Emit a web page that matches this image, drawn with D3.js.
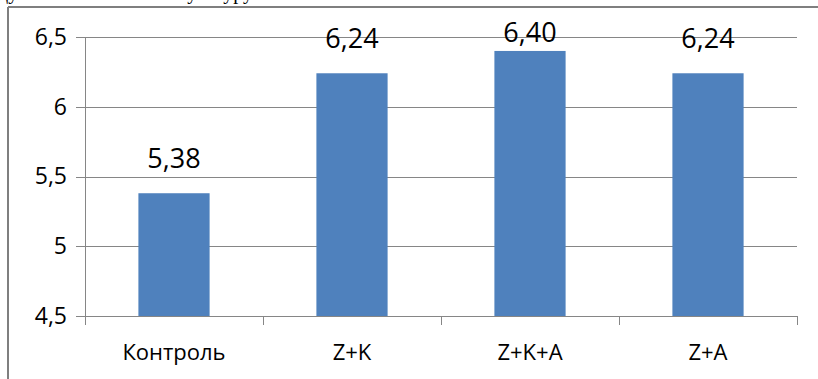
<!DOCTYPE html>
<html>
<head>
<meta charset="utf-8">
<script src="https://cdn.jsdelivr.net/npm/d3@7"></script>
<style>
  body { margin: 0; background: #fff; }
  svg { display: block; }
</style>
</head>
<body>
<div id="chart"></div>
<script>
// data
var categories = ["Контроль", "Z+K", "Z+K+A", "Z+A"];
var values = [5.38, 6.24, 6.40, 6.24];
var valueLabels = ["5,38", "6,24", "6,40", "6,24"];
var yTicks = [4.5, 5, 5.5, 6, 6.5];
var yTickLabels = ["4,5", "5", "5,5", "6", "6,5"];

var w = 818, h = 379;
var plot = {left: 85, right: 797, top: 37, bottom: 316};
var font = "'Open Sans', sans-serif";
var gridColor = "#868686";
var barColor = "#4F81BD";

var svg = d3.select("#chart")
  .append("svg")
  .attr("width", w)
  .attr("height", h);

// cut off text line above the chart (only the descenders show)
svg.append("text")
  .attr("x", -2)
  .attr("y", -1)
  .style("font", "20px 'Liberation Serif', serif")
  .text("ду");
svg.append("text")
  .attr("x", 253)
  .attr("y", -1)
  .attr("text-anchor", "end")
  .style("font", "20px 'Liberation Serif', serif")
  .text("культуру");

// chart frame
svg.append("line")
  .attr("x1", 8).attr("x2", w)
  .attr("y1", 7).attr("y2", 7)
  .attr("stroke", "#7f7f7f")
  .attr("stroke-width", 2);
svg.append("line")
  .attr("x1", 8).attr("x2", 8)
  .attr("y1", 7).attr("y2", h)
  .attr("stroke", "#7f7f7f")
  .attr("stroke-width", 2);

// scales
var xScale = d3.scaleBand()
  .domain(categories)
  .range([plot.left, plot.right])
  .padding(0);

var yScale = d3.scaleLinear()
  .domain([4.5, 6.5])
  .range([plot.bottom, plot.top]);

// y axis with gridlines
var yAxis = d3.axisLeft(yScale)
  .tickValues(yTicks)
  .tickFormat(function(d, i) { return yTickLabels[i]; })
  .tickSize(-(plot.right - plot.left))
  .tickPadding(18);

var gy = svg.append("g")
  .attr("transform", "translate(" + plot.left + ",0)")
  .call(yAxis);
gy.select(".domain").remove();
gy.selectAll(".tick line")
  .attr("x1", -9)
  .attr("stroke", gridColor)
  .attr("shape-rendering", "crispEdges");
gy.selectAll(".tick text")
  .style("font", "23px " + font)
  .attr("fill", "#000");

// y axis line
svg.append("line")
  .attr("x1", plot.left).attr("x2", plot.left)
  .attr("y1", plot.top).attr("y2", plot.bottom)
  .attr("stroke", gridColor)
  .attr("shape-rendering", "crispEdges");

// bars
var barWidth = xScale.bandwidth() * 0.4;
svg.selectAll(".bar")
  .data(values)
  .enter()
  .append("rect")
  .attr("class", "bar")
  .attr("x", function(d, i) { return xScale(categories[i]) + (xScale.bandwidth() - barWidth) / 2; })
  .attr("y", function(d) { return yScale(d); })
  .attr("width", barWidth)
  .attr("height", function(d) { return plot.bottom - yScale(d); })
  .attr("fill", barColor);

// x axis with ticks between the categories
svg.append("line")
  .attr("x1", plot.left).attr("x2", plot.right)
  .attr("y1", plot.bottom).attr("y2", plot.bottom)
  .attr("stroke", gridColor)
  .attr("shape-rendering", "crispEdges");

var bounds = categories.map(function(c) { return xScale(c); }).concat([plot.right]);
svg.selectAll(".xtick")
  .data(bounds)
  .enter()
  .append("line")
  .attr("class", "xtick")
  .attr("x1", function(d) { return d; })
  .attr("x2", function(d) { return d; })
  .attr("y1", plot.bottom)
  .attr("y2", plot.bottom + 9)
  .attr("stroke", gridColor)
  .attr("shape-rendering", "crispEdges");

svg.selectAll(".xlabel")
  .data(categories)
  .enter()
  .append("text")
  .attr("class", "xlabel")
  .attr("x", function(d) { return xScale(d) + xScale.bandwidth() / 2; })
  .attr("y", 360)
  .attr("text-anchor", "middle")
  .style("font", "22px " + font)
  .attr("fill", "#000")
  .text(function(d) { return d; });

// value labels above the bars, kept inside the frame
svg.selectAll(".vlabel")
  .data(values)
  .enter()
  .append("text")
  .attr("class", "vlabel")
  .attr("x", function(d, i) { return xScale(categories[i]) + xScale.bandwidth() / 2; })
  .attr("y", function(d) { return Math.max(yScale(d) - 25, 42); })
  .attr("text-anchor", "middle")
  .style("font", "27px " + font)
  .attr("fill", "#000")
  .text(function(d, i) { return valueLabels[i]; });
</script>
</body>
</html>
